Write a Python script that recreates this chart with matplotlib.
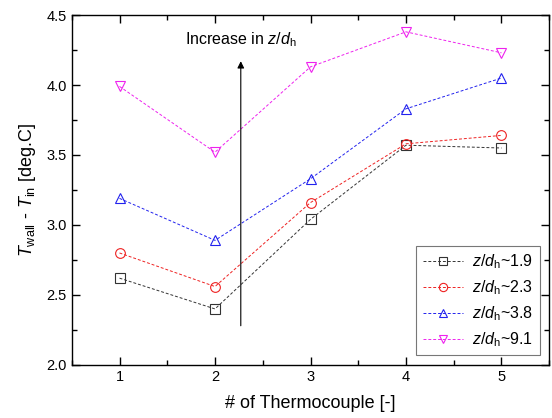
import numpy as np
import matplotlib
matplotlib.use("Agg")
import matplotlib.pyplot as plt
from matplotlib.ticker import MultipleLocator

plt.rcParams['font.family'] = ['Liberation Sans', 'DejaVu Sans']
plt.rcParams['mathtext.fontset'] = 'custom'
plt.rcParams['mathtext.rm'] = 'Liberation Sans'
plt.rcParams['mathtext.it'] = 'Liberation Sans:italic'

tc = [1, 2, 3, 4, 5]
zd_19 = [2.62, 2.40, 3.04, 3.57, 3.55]
zd_23 = [2.80, 2.56, 3.16, 3.58, 3.64]
zd_38 = [3.19, 2.89, 3.33, 3.83, 4.05]
zd_91 = [3.99, 3.52, 4.13, 4.38, 4.23]
labels = ['1.9', '2.3', '3.8', '9.1']

fig = plt.figure(figsize=(5.52, 4.18), dpi=100)
ax = fig.add_axes([0.130, 0.127, 0.865, 0.837])

series = [zd_19, zd_23, zd_38, zd_91]
colors = ['#333333', '#ee2222', '#2222ee', '#ee22ee']
markers = ['s', 'o', '^', 'v']
for s, c, m, lab in zip(series, colors, markers, labels):
    ax.plot(tc, s, color=c, ls=(0, (3, 2)), lw=0.7, marker=m, ms=7,
            mfc='none', mec=c, mew=0.8,
            label=r'$z/d_{\rm h}$~' + lab)

ax.set_xlim(0.5, 5.5)
ax.set_ylim(2.0, 4.5)
ax.xaxis.set_major_locator(MultipleLocator(1))
ax.xaxis.set_minor_locator(MultipleLocator(0.5))
ax.yaxis.set_major_locator(MultipleLocator(0.5))
ax.yaxis.set_minor_locator(MultipleLocator(0.25))
ax.tick_params(which='both', direction='in', top=True, right=True, labelsize=10.5)
ax.tick_params(which='major', length=6, width=1)
ax.tick_params(which='minor', length=3.5, width=1)
for sp in ax.spines.values():
    sp.set_linewidth(1)

ax.set_xlabel('# of Thermocouple [-]', fontsize=13, labelpad=8)
ax.set_ylabel(r'$T_{\rm wall}$ - $T_{\rm in}$ [deg.C]', fontsize=13, labelpad=6)

ax.annotate('', xy=(2.27, 4.19), xytext=(2.27, 2.26),
            arrowprops=dict(arrowstyle='-|>', color='black', lw=0.8, mutation_scale=10))
ax.text(2.27, 4.26, r'Increase in $z/d_{\rm h}$', ha='center', va='bottom', fontsize=11.5)

leg = ax.legend(loc='lower right', fontsize=11.5, frameon=True, fancybox=False,
                edgecolor='#555555', handlelength=2.5, borderaxespad=0.6,
                labelspacing=0.45, handletextpad=0.6, markerscale=0.85)
leg.get_frame().set_linewidth(0.8)

fig.savefig('out.png', dpi=100)
